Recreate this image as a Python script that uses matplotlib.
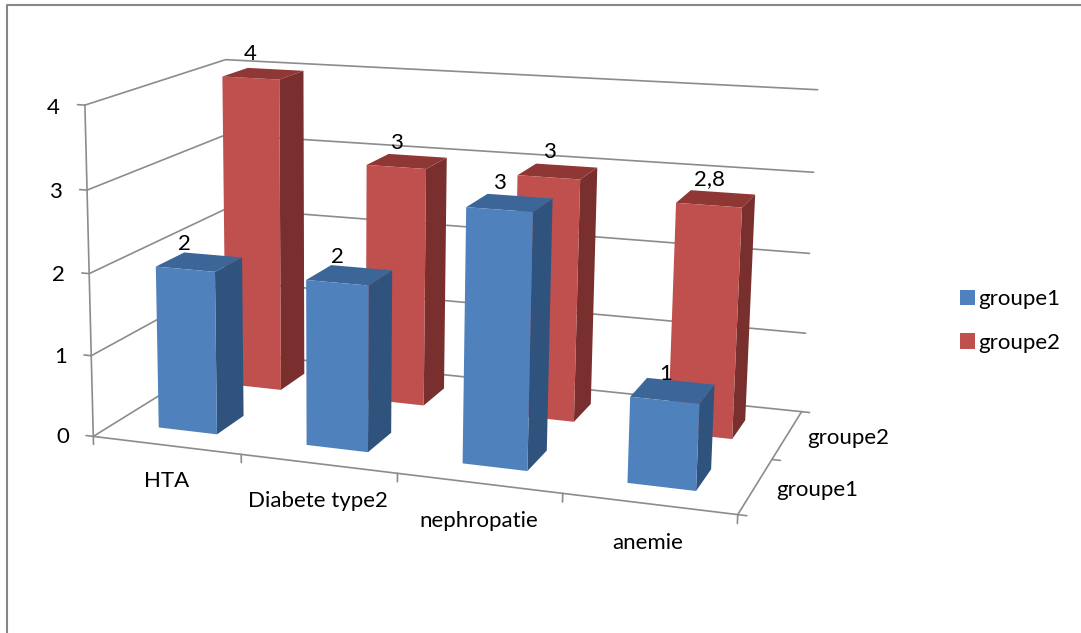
import numpy as np
import matplotlib
matplotlib.use('Agg')
import matplotlib.pyplot as plt
from matplotlib.patches import Patch
from matplotlib.lines import Line2D

plt.rcParams['font.family'] = ['Lato', 'DejaVu Sans']

W, H = 1081, 633

# donnees
categories = ['HTA', 'Diabete type2', 'nephropatie', 'anemie']
series = ['groupe1', 'groupe2']
groupe1 = [2, 2, 3, 1]
groupe2 = [4, 3, 3, 2.8]
zticks = [0, 1, 2, 3, 4]

# couleurs : dessous, dessus, devant, derriere, gauche, droite
none = (0, 0, 0, 0)
faces1 = [none, '#3D6698', '#4F81BD', none, none, '#30537D']
faces2 = [none, '#8E3735', '#C0504D', none, none, '#782F2E']
grid = '#8C8C8C'
fs = 16

# calage de la camera : (categorie, serie, valeur) -> pixel de l'image
calib_3d = np.array([[0, 0, 0], [1, 0, 0], [2, 0, 0], [3, 0, 0], [4, 0, 0], [4, 1, 0], [4, 2, 0], [0, 2, 0],
                     [0, 0, 4], [0, 0, 3], [0, 0, 2], [0, 0, 1], [0, 2, 4], [0, 2, 3],
                     [4, 2, 4], [4, 2, 3], [4, 2, 2], [4, 2, 1]], dtype=float)
calib_px = np.array([[96, 435], [242, 453], [397, 475], [562, 495], [737, 516], [773, 459], [802, 409], [224, 355],
                     [81, 105], [86, 190], [90, 273], [93, 355], [229, 59], [227, 135],
                     [817, 91], [813, 172], [810, 254], [806, 332]], dtype=float)


def fit_camera(p3, p2):
    rows = []
    for (x, y, z), (u, v) in zip(p3, p2):
        rows.append([x, y, z, 1, 0, 0, 0, 0, -u*x, -u*y, -u*z, -u])
        rows.append([0, 0, 0, 0, x, y, z, 1, -v*x, -v*y, -v*z, -v])
    P = np.linalg.svd(np.array(rows))[2][-1].reshape(3, 4)
    if P[2, 3] < 0:
        P = -P
    return P


cam = fit_camera(calib_3d, calib_px)

fig = plt.figure(figsize=(W/100, H/100), dpi=100)
ax = fig.add_axes([0, 0, 1, 1], projection='3d')
ax.apply_aspect = lambda *a, **k: None
ax.set_axis_off()
ax.computed_zorder = False


def get_proj():
    # pixel image -> pixel matplotlib -> coordonnees de l'axe
    flip = np.array([[1, 0, 0], [0, -1, H], [0, 0, 1]], dtype=float)
    A = ax.transData.inverted().get_matrix() @ flip @ cam
    return np.array([A[0], A[1], [0, 0, 0, -1], A[2]])


ax.get_proj = get_proj


def line3(x, y, z):
    ax.plot(x, y, z, color=grid, lw=1.2, zorder=1, solid_capstyle='round')


def label3(x, y, z, s, ha='center', dy=1.5):
    # texte place par la camera, en coordonnees de la figure
    p = cam @ np.array([x, y, z, 1.0])
    fig.text(p[0]/p[2]/W, 1 - (p[1]/p[2] + dy)/H, s, ha=ha, va='center', fontsize=fs, color='black')


nx, ny = len(categories), len(series)
top = zticks[-1]
for z in zticks:
    line3([0, 0, nx], [0, ny, ny], [z, z, z])
    line3([-0.05, 0], [0, 0], [z, z])
    label3(-0.17, 0, z, str(z), ha='right', dy=4)
line3([0, 0], [0, 0], [0, top])
line3([0, nx, nx], [0, 0, ny], [0, 0, 0])
for i in range(nx + 1):
    line3([i, i], [0, 0], [0, -0.1])
for j in range(ny + 1):
    line3([nx, nx + 0.05], [j, j], [0, 0])

# barres, du fond vers l'avant
width = 0.4
for s, (vals, faces) in reversed(list(enumerate(zip([groupe1, groupe2], [faces1, faces2])))):
    for i, v in enumerate(vals):
        ax.bar3d(i + 0.3, s + 0.3, 0, width, width, v, color=faces, shade=False,
                 edgecolor='none', linewidth=0, zorder=10 + 5*(1 - s) + i)
        label3(i + 0.5, s + 0.3, v + 0.32, f'{v:g}'.replace('.', ','))

for i, c in enumerate(categories):
    label3(i + 0.5, 0, -0.43, c)
for j, c in enumerate(series):
    label3(nx + 0.12, j + 0.5, 0, c, ha='left')

# legende
handles = [Patch(facecolor=faces1[2], label=series[0]), Patch(facecolor=faces2[2], label=series[1])]
fig.legend(handles=handles, loc='center left', bbox_to_anchor=(960/W, 1 - 321/H), frameon=False, fontsize=fs,
           handlelength=0.68, handleheight=0.7, handletextpad=0.15, labelspacing=1.07, borderpad=0, borderaxespad=0)

# cadre du graphique (gauche et haut seulement)
fig.add_artist(Line2D([7/W, 7/W, 1], [0, 1 - 5/H, 1 - 5/H], color='#868686', lw=1.5))

plt.savefig('out.png', dpi=100)
